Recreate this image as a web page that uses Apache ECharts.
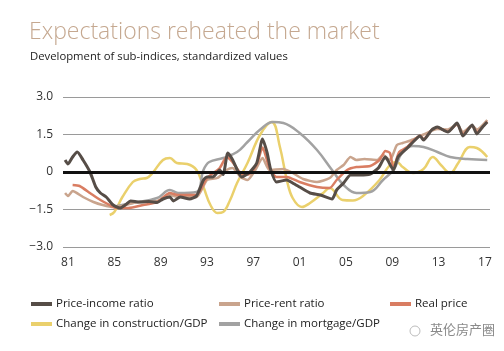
<!DOCTYPE html>
<html>
<head>
<meta charset="utf-8">
<script src="https://cdn.jsdelivr.net/npm/echarts@6/dist/echarts.min.js"></script>
<style>
  html, body { margin: 0; padding: 0; background: #fff; }
  #main { width: 504px; height: 351px; }
</style>
</head>
<body>
<div id="main"></div>
<script>
// tick labels
var yearTicks = [1981, 1985, 1989, 1993, 1997, 2001, 2005, 2009, 2013, 2017];

// series values: [year, standardized value]
var priceIncome = [
  [1980.75, 0.48], [1981, 0.32], [1981.4, 0.6], [1981.8, 0.8], [1982.3, 0.48], [1982.9, 0],
  [1983.4, -0.6], [1983.8, -0.84], [1984.3, -1.0], [1984.9, -1.32], [1985.5, -1.44], [1986.0, -1.3],
  [1986.4, -1.16], [1987.2, -1.2], [1988.0, -1.18], [1988.7, -1.22], [1989.2, -1.08], [1989.8, -1.0],
  [1990.1, -1.16], [1990.7, -1.0], [1991.5, -1.08], [1992.1, -0.96], [1992.7, -0.32], [1993.0, -0.2],
  [1993.5, -0.2], [1994.1, 0.08], [1994.4, -0.1], [1994.8, 0.76], [1995.2, 0.5], [1995.6, 0.1],
  [1996.0, -0.2], [1996.7, 0], [1997.3, 0.36], [1997.8, 1.32], [1998.2, 0.76], [1998.5, 0.1],
  [1999.0, -0.4], [1999.9, -0.32], [2000.4, -0.44], [2001.0, -0.6], [2001.9, -0.84], [2002.8, -0.92],
  [2003.8, -1.08], [2004.2, -0.72], [2004.8, -0.44], [2005.4, -0.12], [2006.2, -0.12], [2007.1, -0.08],
  [2007.8, 0.16], [2008.4, 0.6], [2008.6, 0.48], [2009.1, 0.08], [2009.5, 0.6], [2010.3, 0.96],
  [2010.8, 1.2], [2011.4, 1.44], [2011.7, 1.28], [2012.4, 1.68], [2012.9, 1.8], [2013.4, 1.68],
  [2013.8, 1.6], [2014.6, 1.96], [2015.1, 1.44], [2015.9, 1.88], [2016.3, 1.52], [2016.8, 1.8],
  [2017.2, 2.0]
];
var priceRent = [
  [1980.75, -0.84], [1981, -0.96], [1981.4, -0.76], [1982.3, -1.0], [1983.2, -1.2], [1984, -1.32],
  [1984.9, -1.4], [1985.7, -1.36], [1986.6, -1.24], [1987.5, -1.2], [1988.7, -1.16], [1989.8, -0.92],
  [1990.5, -1.0], [1992.1, -1.0], [1993, -0.32], [1993.9, -0.24], [1994.7, 0.08], [1995.2, 0.16],
  [1995.9, -0.2], [1996.5, -0.32], [1997.2, 0.1], [1997.8, 0.56], [1998.4, 0.08], [1999.6, 0.12],
  [2000.4, -0.04], [2001.3, -0.28], [2002.5, -0.4], [2003.6, -0.24], [2004.2, 0.08], [2004.8, 0.28],
  [2005.4, 0.6], [2005.9, 0.48], [2006.6, 0.52], [2007.7, 0.48], [2008.2, 0.68], [2008.8, 0.48],
  [2009.4, 1.08], [2009.9, 1.16], [2010.8, 1.3], [2011.7, 1.5], [2012.9, 1.72], [2013.8, 1.7],
  [2014.6, 1.9], [2015.1, 1.6], [2015.9, 1.85], [2016.3, 1.7], [2017.2, 2.08]
];
var realPrice = [
  [1981.4, -0.52], [1982, -0.56], [1982.9, -0.84], [1983.8, -1.12], [1984.6, -1.32], [1985.2, -1.44],
  [1986.2, -1.44], [1987.5, -1.32], [1988.7, -1.2], [1989.8, -0.84], [1990.5, -0.92], [1992.1, -0.92],
  [1993, -0.24], [1994.1, 0.16], [1994.7, 0.6], [1995.2, 0.4], [1995.9, -0.04], [1996.6, -0.1],
  [1997.3, 0.3], [1997.8, 0.98], [1998.4, 0.16], [1999, -0.2], [1999.9, -0.2], [2001, -0.4],
  [2002.5, -0.6], [2003.6, -0.64], [2004.2, -0.32], [2005.1, 0.08], [2005.9, 0.2], [2007.1, 0.24],
  [2007.9, 0.48], [2008.4, 0.84], [2008.8, 0.76], [2009.1, 0.16], [2009.6, 0.8], [2010.3, 1.0],
  [2010.8, 1.25], [2011.4, 1.45], [2011.7, 1.32], [2012.4, 1.68], [2012.9, 1.78], [2013.8, 1.62],
  [2014.6, 1.92], [2015.1, 1.5], [2015.9, 1.86], [2016.3, 1.6], [2017.2, 2.02]
];
var constructionGdp = [
  [1984.6, -1.72], [1985, -1.6], [1985.7, -1.0], [1986.6, -0.4], [1987.2, -0.28], [1987.8, -0.24],
  [1988.3, -0.04], [1989.2, 0.48], [1989.8, 0.56], [1990.4, 0.36], [1991.3, 0.32], [1992.1, 0.08],
  [1992.7, -0.6], [1993.3, -1.32], [1993.9, -1.64], [1994.4, -1.6], [1995, -1.12], [1995.6, -0.44],
  [1996.5, 0.36], [1997.6, 1.5], [1998.6, 2.0], [1999.3, 1.0], [1999.9, -0.32], [2000.4, -1.04],
  [2001.2, -1.4], [2001.9, -1.24], [2003, -0.85], [2003.6, -0.64], [2004.7, -1.12], [2005.6, -1.14],
  [2006.5, -0.95], [2007.9, -0.32], [2008.8, 0.28], [2009.4, 0.4], [2009.9, 0.2], [2010.8, -0.04],
  [2011.7, 0.12], [2012.5, 0.6], [2013.2, 0.28], [2014, -0.04], [2014.7, 0.36], [2015.7, 1.0],
  [2016.3, 0.96], [2017.2, 0.6]
];
var mortgageGdp = [
  [1985, -1.38], [1986.6, -1.24], [1988.7, -1.04], [1989.8, -0.72], [1990.5, -0.84], [1992.1, -0.8],
  [1992.7, 0.08], [1993.2, 0.4], [1994.4, 0.56], [1995.6, 0.8], [1996.5, 1.2], [1997.6, 1.7],
  [1998.7, 2.0], [1999.6, 1.96], [2001, 1.56], [2002.5, 0.88], [2003.8, 0.08], [2004.8, -0.52],
  [2005.9, -0.84], [2007.1, -0.8], [2008.2, -0.32], [2009.1, 0.08], [2009.9, 0.8], [2010.8, 1.04],
  [2011.7, 1.0], [2012.9, 0.8], [2014, 0.6], [2015.5, 0.52], [2017.2, 0.48]
];

var chartDom = document.getElementById("main");
var myChart = echarts.init(chartDom);

var font = "'Open Sans', 'Noto Sans', sans-serif";

function line(name, data, color, width, smooth) {
  return {
    name: name,
    type: "line",
    data: data,
    smooth: smooth,
    showSymbol: false,
    lineStyle: { color: color, width: width },
    itemStyle: { color: color },
    emphasis: { disabled: true }
  };
}

var legendBase = {
  orient: "vertical",
  icon: "rect",
  itemWidth: 21,
  itemHeight: 4,
  itemGap: 6,
  textStyle: { fontFamily: font, fontSize: 11.5, lineHeight: 14, color: "#222", padding: [0, 0, 0, -1] }
};

var option = {
  animation: false,
  textStyle: { fontFamily: font },
  title: [
    {
      text: "Expectations reheated the market",
      left: 24, top: 16,
      textStyle: { fontFamily: font, fontSize: 23, fontWeight: 300, color: "#c5a890" }
    },
    {
      text: "Development of sub-indices, standardized values",
      left: 25, top: 46,
      textStyle: { fontFamily: font, fontSize: 11.3, fontWeight: "normal", color: "#222" }
    }
  ],
  grid: { left: 63, right: 14, top: 97, bottom: 104 },
  xAxis: {
    type: "value",
    min: 1980.57,
    max: 2017.44,
    axisLine: { show: false },
    axisTick: { show: false },
    splitLine: { show: false },
    axisLabel: {
      customValues: yearTicks,
      margin: 10,
      fontFamily: font,
      fontSize: 12,
      color: "#333",
      formatter: function (v) { return String(v % 100).padStart(2, "0"); }
    }
  },
  yAxis: {
    type: "value",
    min: -3,
    max: 3,
    interval: 1.5,
    axisLine: { show: false },
    axisTick: { show: false },
    splitLine: { lineStyle: { color: "#9a9a9a", width: 1 } },
    axisLabel: {
      margin: 10,
      fontFamily: font,
      fontSize: 12,
      color: "#333",
      formatter: function (v) { return v === 0 ? "0" : v.toFixed(1).replace("-", "\u2212"); }
    }
  },
  legend: [
    Object.assign({ left: 26, top: 292, data: ["Price-income ratio", "Change in construction/GDP"] }, legendBase),
    Object.assign({ left: 214, top: 292, data: ["Price-rent ratio", "Change in mortgage/GDP"] }, legendBase),
    Object.assign({ left: 385, top: 292, data: ["Real price"] }, legendBase)
  ],
  series: [
    Object.assign(line("Change in construction/GDP", constructionGdp, "#ead06c", 2.5, 0.4), {
      markLine: {
        silent: true,
        symbol: "none",
        label: { show: false },
        lineStyle: { color: "#111", width: 3, type: "solid" },
        data: [{ yAxis: 0 }]
      }
    }),
    line("Change in mortgage/GDP", mortgageGdp, "#a2a2a2", 2.5, 0.4),
    line("Price-rent ratio", priceRent, "#c9a48d", 2.5, 0.2),
    line("Real price", realPrice, "#d97d62", 2.5, 0.2),
    line("Price-income ratio", priceIncome, "#564d47", 3, 0.2)
  ],
  graphic: [
    {
      type: "text",
      left: 430, top: 323,
      style: { text: "英伦房产圈", fontFamily: "'Noto Sans CJK SC'", fontSize: 13, fill: "#8a8a8a" }
    },
    {
      type: "circle",
      shape: { cx: 415, cy: 331, r: 5 },
      style: { fill: "none", stroke: "#bbb", lineWidth: 1 }
    }
  ]
};

option && myChart.setOption(option);
</script>
</body>
</html>
